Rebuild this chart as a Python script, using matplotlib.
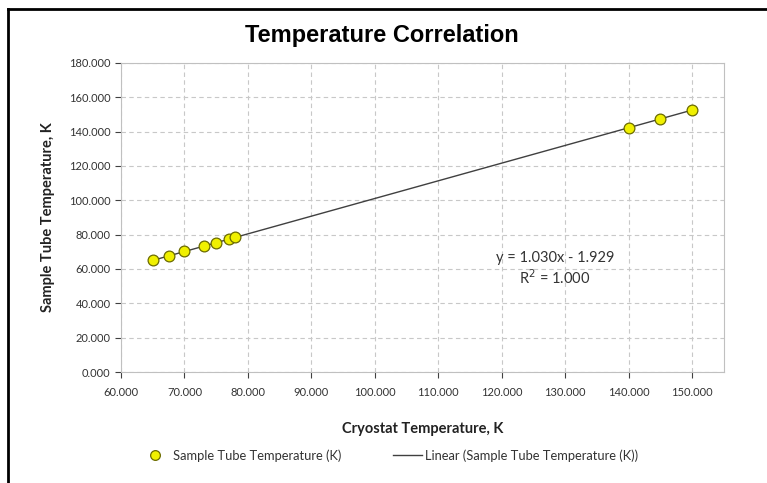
import numpy as np
import matplotlib
matplotlib.use('Agg')
from matplotlib import pyplot as plt
from matplotlib.lines import Line2D

# data
cryostat_k = [65.0, 67.5, 70.0, 73.0, 75.0, 77.0, 78.0, 140.0, 145.0, 150.0]
sample_k = [65.0, 67.6, 70.2, 73.3, 75.3, 77.4, 78.4, 142.3, 147.4, 152.6]
x_ticks = [60, 70, 80, 90, 100, 110, 120, 130, 140, 150]
y_ticks = [0, 20, 40, 60, 80, 100, 120, 140, 160, 180]
eq_text = 'y = 1.030x - 1.929'
r2_text = 'R$^2$ = 1.000'

plt.rcParams['font.family'] = ['Lato', 'DejaVu Sans']

fig = plt.figure(figsize=(7.67, 4.83), dpi=100)
ax = fig.add_axes([0.1578, 0.2298, 0.786, 0.6398])

x = np.array(cryostat_k)
y = np.array(sample_k)
slope, icept = np.polyfit(x, y, 1)

ax.plot([x.min(), x.max()], [slope * x.min() + icept, slope * x.max() + icept],
        color='#404040', lw=1.0, zorder=2)
ax.scatter(x, y, s=60, color='#f0f000', edgecolor='#6b6b00', lw=0.9, zorder=3)

ax.set_xlim(60, 155)
ax.set_ylim(0, 180)
ax.set_xticks(x_ticks)
ax.set_yticks(y_ticks)
ax.set_xticklabels([f'{v:.3f}' for v in x_ticks])
ax.set_yticklabels([f'{v:.3f}' for v in y_ticks])
ax.tick_params(labelsize=8, colors='#404040', length=4, width=0.8,
               direction='out', labelcolor='#333333')
ax.tick_params(axis='x', pad=7)
ax.grid(True, ls=(0, (4, 3)), color='#c8c8c8', lw=0.8)
ax.set_axisbelow(True)
for s in ax.spines.values():
    s.set_color('#c0c0c0')
    s.set_linewidth(0.8)

ax.set_xlabel('Cryostat Temperature, K', fontsize=10.5, fontweight='bold',
              labelpad=17, color='#222222')
ax.set_ylabel('Sample Tube Temperature, K', fontsize=10.5, fontweight='bold',
              labelpad=10, color='#222222')
fig.text(0.498, 0.927, 'Temperature Correlation', ha='center', va='center',
         fontsize=17, fontweight='bold', family='Liberation Sans')

ax.text(128.4, 66.4, eq_text, ha='center', va='center', fontsize=10.5,
        color='#333333')
ax.text(128.4, 54.7, r2_text, ha='center', va='center', fontsize=10.5,
        color='#333333')

handles = [
    Line2D([], [], ls='none', marker='o', ms=7, mfc='#f0f000',
           mec='#6b6b00', mew=0.9),
    Line2D([], [], color='#404040', lw=1.0),
]
fig.legend(handles, ['Sample Tube Temperature (K)',
                     'Linear (Sample Tube Temperature (K))'],
           loc='center', bbox_to_anchor=(0.508, 0.057), ncol=2, frameon=False,
           fontsize=9.3, handlelength=2.2, columnspacing=4.0, handletextpad=0.3,
           labelcolor='#333333')

# screenshot frame lines (top and left)
fig.add_artist(Line2D([8 / 767, 1.0], [1 - 9 / 483, 1 - 9 / 483],
                      transform=fig.transFigure, color='black', lw=2))
fig.add_artist(Line2D([8 / 767, 8 / 767], [0, 1 - 9 / 483],
                      transform=fig.transFigure, color='black', lw=2))

fig.savefig('out.png', dpi=100)
